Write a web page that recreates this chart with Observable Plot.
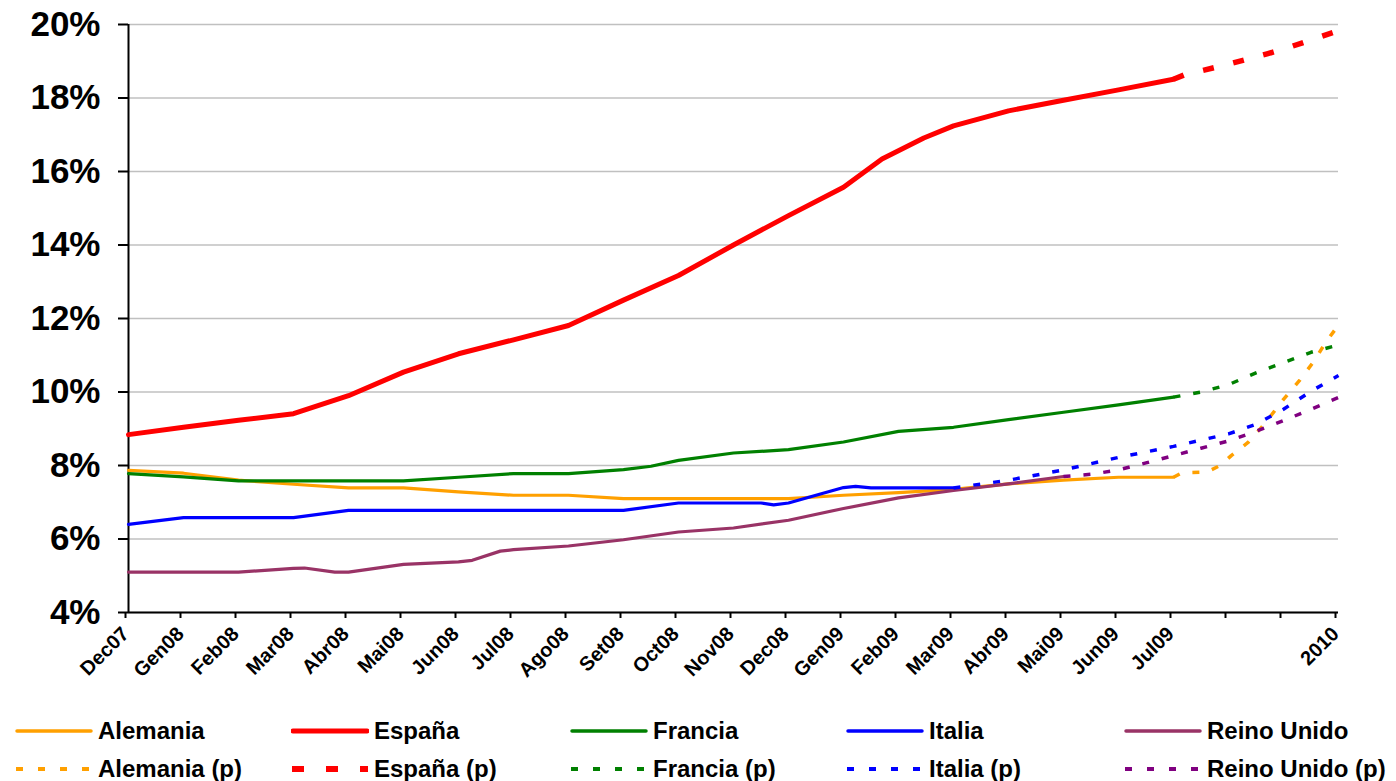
<!DOCTYPE html>
<html>
<head>
<meta charset="utf-8">
<script src="https://cdn.jsdelivr.net/npm/d3@7"></script>
<script src="https://cdn.jsdelivr.net/npm/@observablehq/plot@0.6"></script>
<style>
  html, body { margin: 0; padding: 0; background: #fff; }
  body { font-family: "Liberation Sans", Arial, sans-serif; }
  #wrap { position: relative; width: 1396px; height: 781px; overflow: hidden; }
  #chart svg { display: block; }
  #legend { position: absolute; left: 0; top: 700px; width: 1396px; height: 81px; }
  .item { position: absolute; display: flex; align-items: center; height: 30px;
          font-weight: bold; font-size: 24px; color: #000; white-space: nowrap; }
  .item svg { display: block; margin-right: 5px; }
</style>
</head>
<body>
<div id="wrap">
  <div id="chart"></div>
  <div id="legend"></div>
</div>
<script>
// ---- tick labels (x index 0..22) ----
const tickLabels = ["Dec07","Gen08","Feb08","Mar08","Abr08","Mai08","Jun08","Jul08","Ago08","Set08",
  "Oct08","Nov08","Dec08","Gen09","Feb09","Mar09","Abr09","Mai09","Jun09","Jul09","","","2010"];
const yTicks = [4, 6, 8, 10, 12, 14, 16, 18, 20];

// ---- observed series (x = month index from Dec07) ----
const alemaniaX = [0,1,2,3,4,5,6,7,8,9,10,11,12,13,14,15,16,17,18,19];
const alemaniaY = [7.87,7.79,7.6,7.49,7.39,7.39,7.28,7.19,7.19,7.1,7.1,7.1,7.1,7.19,7.26,7.35,7.5,7.6,7.68,7.68];

const espanaX = [0,1,2,3,4,5,6,7,8,9,10,11,12,13,13.7,14.46,15,16,17,18,19];
const espanaY = [8.84,9.04,9.23,9.41,9.9,10.54,11.04,11.42,11.81,12.5,13.17,14.0,14.8,15.57,16.34,16.91,17.24,17.65,17.94,18.22,18.51];

const franciaX = [0,1,2,3,4,5,6,7,8,9,9.5,10,11,12,13,14,15,16,17,18,19];
const franciaY = [7.78,7.69,7.58,7.58,7.58,7.58,7.68,7.78,7.78,7.89,7.98,8.14,8.34,8.43,8.64,8.93,9.04,9.25,9.45,9.65,9.86];

const italiaX = [0,1,2,3,4,5,6,7,8,9,10,11,11.5,11.73,12,13,13.22,13.5,14,15];
const italiaY = [6.4,6.58,6.58,6.58,6.78,6.78,6.78,6.78,6.78,6.78,6.98,6.98,6.98,6.93,6.98,7.4,7.43,7.39,7.39,7.39];

const reinoX = [0,1,2,3,3.2,3.75,4,5,6,6.25,6.76,7,8,9,10,11,12,13,14,15,16,17];
const reinoY = [5.1,5.1,5.1,5.2,5.21,5.1,5.1,5.31,5.38,5.42,5.67,5.71,5.81,5.98,6.19,6.3,6.51,6.83,7.12,7.32,7.5,7.7];

// ---- projected series (p) ----
const alemaniaPX = [19,19.15,19.6,19.85,20.05,20.35,20.65,21,21.3,21.55,21.78,22];
const alemaniaPY = [7.68,7.8,7.82,8.0,8.27,8.62,9.12,9.8,10.33,10.83,11.38,11.82];

const espanaPX = [19,19.2,20,20.7,21,22];
const espanaPY = [18.51,18.63,18.92,19.2,19.33,19.83];

const franciaPX = [19,19.5,20,20.5,21,21.5,22];
const franciaPY = [9.86,10.0,10.2,10.52,10.8,11.08,11.28];

const italiaPX = [15,16,17,18,19,20,20.5,21,21.5,22];
const italiaPY = [7.39,7.6,7.88,8.22,8.52,8.86,9.12,9.53,10.02,10.45];

const reinoPX = [17,17.5,18,18.5,19,19.5,20,20.5,21,21.5,22];
const reinoPY = [7.7,7.76,7.88,8.07,8.27,8.47,8.67,8.93,9.22,9.53,9.85];

// ---- series definitions (styles) ----
const series = [
  {name:"Alemania",        xs:alemaniaX,  ys:alemaniaY,  color:"#FFA000", w:3.2, dash:null},
  {name:"España",          xs:espanaX,    ys:espanaY,    color:"#FF0000", w:5,   dash:null},
  {name:"Francia",         xs:franciaX,   ys:franciaY,   color:"#008000", w:3.2, dash:null},
  {name:"Italia",          xs:italiaX,    ys:italiaY,    color:"#0000FF", w:3.2, dash:null},
  {name:"Reino Unido",     xs:reinoX,     ys:reinoY,     color:"#993366", w:3.2, dash:null},
  {name:"Alemania (p)",    xs:alemaniaPX, ys:alemaniaPY, color:"#FFA000", w:3.5, dash:"7,13"},
  {name:"España (p)",      xs:espanaPX,   ys:espanaPY,   color:"#FF0000", w:5.5, dash:"11,20"},
  {name:"Francia (p)",     xs:franciaPX,  ys:franciaPY,  color:"#008000", w:3.5, dash:"7,13"},
  {name:"Italia (p)",      xs:italiaPX,   ys:italiaPY,   color:"#0000FF", w:3.5, dash:"7,13"},
  {name:"Reino Unido (p)", xs:reinoPX,    ys:reinoPY,    color:"#800080", w:3.5, dash:"7,13"}
];

const lineMarks = series.map(s => {
  const data = s.xs.map((x, i) => ({x, y: s.ys[i]}));
  const opts = {x: "x", y: "y", stroke: s.color, strokeWidth: s.w, strokeLinejoin: "round",
                strokeLinecap: s.dash ? "butt" : "round"};
  if (s.dash) opts.strokeDasharray = s.dash;
  return Plot.line(data, opts);
});

const font = '"Liberation Sans", Arial, sans-serif';

const chart = Plot.plot({
  width: 1396,
  height: 700,
  marginLeft: 128,
  marginRight: 58,
  marginTop: 24,
  marginBottom: 88,
  style: {fontFamily: font, background: "#fff", color: "#000"},
  x: {type: "linear", domain: [0, 22]},
  y: {domain: [4, 20]},
  marks: [
    Plot.gridY(yTicks, {stroke: "#c0c0c0", strokeOpacity: 1, strokeWidth: 1.5}),
    Plot.ruleY([4], {stroke: "#000", strokeWidth: 2}),
    Plot.ruleX([0], {y1: 4, y2: 20, stroke: "#000", strokeWidth: 2}),
    Plot.axisY(yTicks, {tickFormat: d => d + "%", tickSize: 10, tickPadding: 18, fontSize: 35,
                        fontWeight: "bold", strokeWidth: 2, label: null}),
    Plot.axisX(d3.range(0, 23), {tickFormat: i => tickLabels[i], tickSize: 6, tickPadding: 12, dx: -3,
                        tickRotate: -45, fontSize: 20, fontWeight: "bold", strokeWidth: 2, label: null}),
    ...lineMarks
  ]
});
document.getElementById("chart").appendChild(chart);

// ---- legend ----
const legend = document.getElementById("legend");
const colLeft = [15, 291, 570, 846, 1124];
const rowTop = [16, 54];
series.forEach((s, i) => {
  const col = i % 5, row = Math.floor(i / 5);
  const div = document.createElement("div");
  div.className = "item";
  div.style.left = colLeft[col] + "px";
  div.style.top = rowTop[row] + "px";
  const ns = "http://www.w3.org/2000/svg";
  const svg = document.createElementNS(ns, "svg");
  svg.setAttribute("width", 78);
  svg.setAttribute("height", 12);
  const ln = document.createElementNS(ns, "line");
  ln.setAttribute("x1", s.dash ? 1 : 2);
  ln.setAttribute("x2", s.dash ? 77 : 76);
  ln.setAttribute("y1", 6);
  ln.setAttribute("y2", 6);
  ln.setAttribute("stroke", s.color);
  ln.setAttribute("stroke-width", s.dash ? (s.w > 5 ? 6 : 4) : (s.w > 4 ? 5 : 3.5));
  if (s.dash) {
    ln.setAttribute("stroke-dasharray", s.w > 5 ? "12,22" : "7,15");
  } else {
    ln.setAttribute("stroke-linecap", "round");
  }
  svg.appendChild(ln);
  div.appendChild(svg);
  const span = document.createElement("span");
  span.textContent = s.name;
  div.appendChild(span);
  legend.appendChild(div);
});
</script>
</body>
</html>
